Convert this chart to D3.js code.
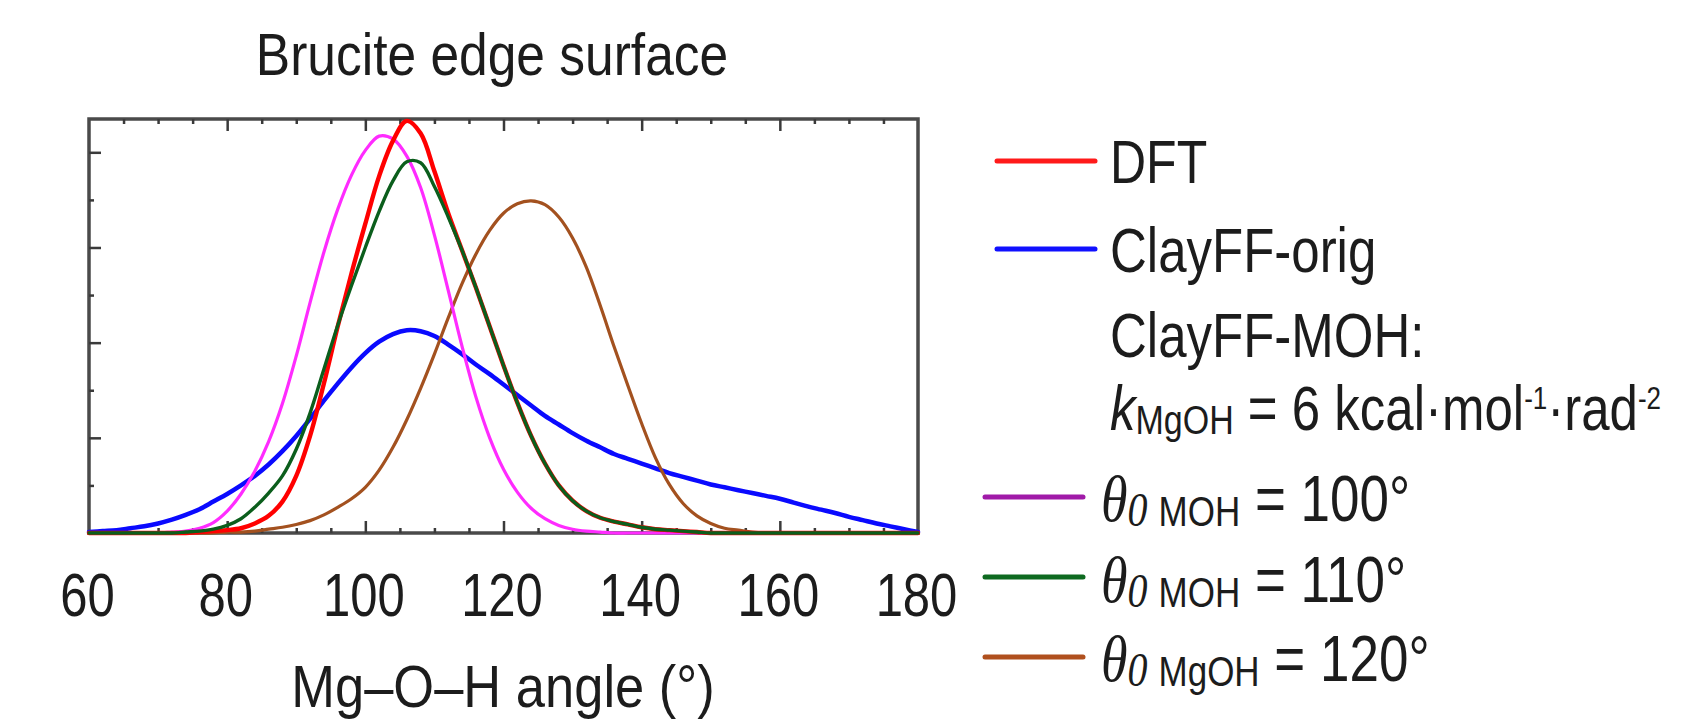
<!DOCTYPE html>
<html><head><meta charset="utf-8">
<script src="https://cdn.jsdelivr.net/npm/d3@7"></script>
<style>
body{margin:0;background:#fff;overflow:hidden}
svg{display:block}
text{font-family:"Liberation Sans",Arial,Helvetica,sans-serif;fill:#1c1c1c}
</style>
</head><body>
<svg id="c" width="1684" height="728"></svg>
<script>
// ---------- data ----------
const angles = [60,62,64,66,68,70,72,74,76,78,80,82,84,86,88,90,92,94,96,98,100,102,104,106,108,110,112,114,116,118,120,122,124,126,128,130,132,134,136,138,140,142,144,146,148,150,152,154,156,158,160,162,164,166,168,170,172,174,176,178,180];

const dft = [0,0,0,0,0,0,0,0,0.01,0.02,0.03,0.05,0.10,0.18,0.33,0.60,1.02,1.57,2.17,2.73,3.25,3.75,4.12,4.33,4.20,3.80,3.36,2.97,2.58,2.17,1.76,1.37,1.02,0.73,0.50,0.34,0.23,0.16,0.12,0.09,0.06,0.04,0.03,0.02,0.01,0,0,0,0,0,0,0,0,0,0,0,0,0,0,0,0];

const clayffOrig = [0.01,0.02,0.03,0.05,0.07,0.10,0.14,0.19,0.25,0.33,0.41,0.50,0.60,0.72,0.86,1.02,1.20,1.39,1.57,1.74,1.89,2.01,2.09,2.13,2.12,2.07,1.98,1.88,1.77,1.67,1.56,1.45,1.34,1.23,1.14,1.05,0.97,0.90,0.83,0.78,0.73,0.68,0.63,0.59,0.55,0.51,0.48,0.45,0.42,0.39,0.36,0.32,0.28,0.245,0.21,0.17,0.135,0.10,0.07,0.04,0.01];

const moh100 = [0,0,0,0,0,0,0.01,0.02,0.05,0.11,0.23,0.41,0.65,0.96,1.36,1.86,2.42,2.95,3.40,3.76,4.02,4.17,4.14,3.96,3.63,3.13,2.55,1.96,1.43,1.00,0.67,0.43,0.26,0.15,0.08,0.04,0.02,0.01,0,0,0,0,0,0,0,0,0,0,0,0,0,0,0,0,0,0,0,0,0,0,0];

const moh110 = [0,0,0,0,0,0,0,0.01,0.02,0.04,0.08,0.15,0.27,0.42,0.60,0.88,1.26,1.72,2.18,2.60,3.00,3.38,3.70,3.90,3.89,3.64,3.32,2.97,2.58,2.17,1.76,1.37,1.02,0.73,0.50,0.34,0.23,0.16,0.12,0.09,0.06,0.04,0.03,0.02,0.01,0,0,0,0,0,0,0,0,0,0,0,0,0,0,0,0];

const mgoh120 = [0,0,0,0,0,0,0,0,0,0,0.01,0.01,0.02,0.04,0.06,0.09,0.13,0.19,0.27,0.36,0.48,0.66,0.90,1.19,1.52,1.88,2.26,2.62,2.93,3.18,3.36,3.46,3.49,3.45,3.32,3.10,2.79,2.39,1.96,1.55,1.15,0.79,0.51,0.31,0.18,0.10,0.05,0.03,0.01,0,0,0,0,0,0,0,0,0,0,0,0];

const xMajorTicks = [60,80,100,120,140,160,180];
const xTickLabels = ["60","80","100","120","140","160","180"];
const xMinorTicks = [65,70,75,85,90,95,105,110,115,125,130,135,145,150,155,165,170,175];
const yMajorTicks = [1,2,3,4];
const yMinorTicks = [0.5,1.5,2.5,3.5];

const titleText = "Brucite edge surface";
const xAxisTitle = "Mg\u2013O\u2013H angle (\u00b0)";

// ---------- layout / style ----------
const svg = d3.select("#c");
const X0 = 89, X1 = 918, Y0 = 533, Y1 = 119;
const x = d3.scaleLinear().domain([60,180]).range([X0,X1]);
const y = d3.scaleLinear().domain([0,4.35]).range([Y0,Y1]);

const series = [
  {vals: clayffOrig, color:"#0a0aff", w:4.5},
  {vals: mgoh120,   color:"#a3511f", w:3.2},
  {vals: moh100,    color:"#ff2bff", w:3.2},
  {vals: dft,       color:"#ff0000", w:4.4},
  {vals: moh110,    color:"#0b5e1c", w:3.4}
];

// frame
svg.append("rect").attr("x",X0).attr("y",Y1).attr("width",X1-X0).attr("height",Y0-Y1)
  .attr("fill","none").attr("stroke","#4a4a4a").attr("stroke-width",3.5);

// axes (ticks inward)
function styleAxis(g){
  g.select(".domain").remove();
  g.selectAll(".tick line").attr("stroke","#3a3a3a").attr("stroke-width",2.5);
}
svg.append("g").attr("transform",`translate(0,${Y1})`)
  .call(d3.axisTop(x).tickValues(xMajorTicks.slice(1,-1)).tickSize(-12).tickFormat(""))
  .call(styleAxis);
svg.append("g").attr("transform",`translate(0,${Y1})`)
  .call(d3.axisTop(x).tickValues(xMinorTicks).tickSize(-5).tickFormat(""))
  .call(styleAxis);
svg.append("g").attr("transform",`translate(0,${Y0})`)
  .call(d3.axisBottom(x).tickValues(xMinorTicks).tickSize(-5).tickFormat(""))
  .call(styleAxis);
const xb = svg.append("g").attr("transform",`translate(0,${Y0})`)
  .call(d3.axisBottom(x).tickValues(xMajorTicks).tickSize(-12)
        .tickFormat((d,i)=>xTickLabels[i]))
  .call(styleAxis);
xb.selectAll(".tick").filter(d=>d===60||d===180).select("line").remove();
xb.selectAll(".tick text")
  .attr("y",0).attr("dy",null)
  .attr("transform","translate(-2,83) scale(1,1.25)")
  .attr("font-size",49).attr("fill","#1c1c1c")
  .attr("font-family","'Liberation Sans',Arial,sans-serif");
svg.append("g").attr("transform",`translate(${X0},0)`)
  .call(d3.axisLeft(y).tickValues(yMajorTicks).tickSize(-12).tickFormat(""))
  .call(styleAxis);
svg.append("g").attr("transform",`translate(${X0},0)`)
  .call(d3.axisLeft(y).tickValues(yMinorTicks).tickSize(-5).tickFormat(""))
  .call(styleAxis);

// curves
const line = d3.line().x((d,i)=>x(angles[i])).y(d=>y(Math.max(0,d)))
  .curve(d3.curveCatmullRom.alpha(0.5));
series.forEach(s=>{
  svg.append("path").datum(s.vals).attr("d",line)
    .attr("fill","none").attr("stroke",s.color).attr("stroke-width",s.w)
    .attr("stroke-linejoin","round").attr("stroke-linecap","round");
});

// titles
function stext(x0,y0,size,sy,anchor){
  return svg.append("text").attr("transform",`translate(${x0},${y0}) scale(1,${sy})`)
    .attr("font-size",size).attr("text-anchor",anchor||"start");
}
stext(492,75,51.5,1.16,"middle").text(titleText);
stext(503,707,52.5,1.12,"middle").text(xAxisTitle);

// legend
const LS = 1.22;
const legLines = [
  {x1:997,x2:1095,y:161,c:"#ff1a1a"},
  {x1:997,x2:1095,y:249,c:"#1010ff"},
  {x1:985,x2:1083,y:497,c:"#a01aa8"},
  {x1:985,x2:1083,y:577,c:"#0e6a20"},
  {x1:985,x2:1083,y:657,c:"#b0501e"}
];
legLines.forEach(l=>{
  svg.append("line").attr("x1",l.x1).attr("x2",l.x2).attr("y1",l.y).attr("y2",l.y)
    .attr("stroke",l.c).attr("stroke-width",5).attr("stroke-linecap","round");
});
stext(1110,183,50,LS).text("DFT");
stext(1110,272,51,LS).text("ClayFF-orig");
stext(1110,357,51,LS).text("ClayFF-MOH:");
const k = stext(1110,430,51,LS);
k.append("tspan").attr("font-style","italic").text("k");
k.append("tspan").attr("font-size",34).attr("dy",3).text("MgOH");
k.append("tspan").attr("dy",-3).text(" = 6 kcal\u00b7mol");
k.append("tspan").attr("font-size",26).attr("dy",-17).text("-1");
k.append("tspan").attr("dy",17).text("\u00b7rad");
k.append("tspan").attr("font-size",26).attr("dy",-17).text("-2");

const thetaRows = [
  {yb:521, sub:"MOH",  val:"100"},
  {yb:602, sub:"MOH",  val:"110"},
  {yb:681, sub:"MgOH", val:"120"}
];
thetaRows.forEach(r=>{
  const t = stext(1101,r.yb,53,LS);
  t.append("tspan").attr("font-family","'Liberation Serif','Times New Roman',serif")
    .attr("font-style","italic").attr("font-size",54).text("\u03b8");
  t.append("tspan").attr("font-family","'Liberation Serif','Times New Roman',serif")
    .attr("font-style","italic").attr("font-size",40).attr("dy",4).text("0");
  t.append("tspan").attr("font-size",35).attr("dx",11).text(r.sub);
  t.append("tspan").attr("dy",-4).text(" = " + r.val + "\u00b0");
});
</script>
</body></html>
